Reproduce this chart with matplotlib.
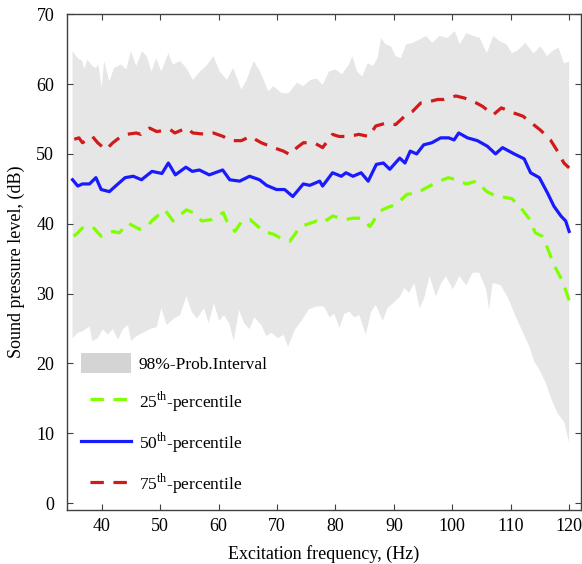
import numpy as np
import matplotlib.pyplot as plt
from matplotlib.patches import Patch
from matplotlib.lines import Line2D

plt.rcParams['font.family'] = ['Liberation Serif', 'DejaVu Serif']
plt.rcParams['mathtext.fontset'] = 'custom'
plt.rcParams['mathtext.rm'] = 'Liberation Serif'

# 98 % probability interval, upper edge
band_hi_f = [35.0, 35.9, 36.7, 37.0, 37.5, 38.4, 39.0, 39.4, 40.0, 40.4, 41.3, 42.1, 43.3, 44.2,
             45.0, 45.9, 46.9, 47.7, 48.5, 49.3, 50.2, 51.4, 52.2, 53.4, 54.5, 55.6, 56.8, 57.9,
             59.1, 60.2, 61.4, 62.5, 63.9, 64.8, 66.0, 67.1, 68.5, 69.4, 70.8, 72.0, 73.4, 74.5,
             75.7, 76.8, 77.8, 78.9, 80.0, 81.1, 82.3, 82.9, 83.7, 84.6, 85.5, 86.4, 87.2, 87.8,
             88.6, 89.5, 90.3, 91.2, 92.1, 93.2, 94.4, 95.5, 96.6, 97.8, 99.2, 100.4, 101.3, 102.4,
             103.6, 104.7, 105.9, 107.0, 108.2, 109.3, 110.2, 111.3, 112.5, 113.9, 115.1, 116.2,
             117.4, 118.2, 119.1, 120.0]
band_hi = [64.7, 63.7, 63.3, 62.1, 63.5, 62.6, 62.3, 62.8, 59.5, 63.3, 60.4, 62.3, 62.8, 62.1,
           64.7, 62.6, 64.7, 64.0, 61.8, 63.7, 61.8, 64.4, 62.8, 63.3, 62.3, 60.6, 61.8, 62.6,
           64.0, 61.8, 60.6, 62.3, 59.2, 60.6, 63.3, 61.8, 59.0, 59.7, 58.7, 58.7, 60.2, 59.7,
           60.6, 60.8, 59.9, 61.8, 62.1, 61.4, 62.8, 64.0, 61.8, 61.1, 63.0, 62.6, 63.7, 66.6,
           65.7, 65.4, 64.0, 63.7, 65.7, 65.9, 66.4, 66.9, 65.9, 66.9, 66.6, 67.6, 65.7, 67.3,
           66.9, 66.6, 64.4, 66.9, 66.1, 65.7, 64.4, 64.9, 65.9, 64.4, 65.4, 64.0,
           64.9, 65.2, 63.0, 63.2]

# 98 % probability interval, lower edge
band_lo_f = [35.0, 35.9, 36.7, 37.9, 38.4, 39.3, 40.2, 41.0, 41.9, 42.8, 43.6, 44.5, 45.0, 45.9,
             47.1, 48.2, 49.4, 50.2, 51.1, 52.3, 53.4, 54.5, 55.4, 56.3, 57.5, 58.3, 59.2, 60.1,
             60.9, 61.8, 62.6, 63.5, 64.4, 65.3, 66.1, 67.3, 68.2, 69.0, 70.2, 71.1, 71.9, 73.1,
             74.2, 75.4, 76.5, 77.5, 78.1, 79.0, 79.8, 80.7, 81.5, 82.4, 83.2, 84.1, 85.2, 86.1,
             86.9, 88.1, 88.9, 89.8, 90.9, 91.8, 92.6, 93.5, 94.4, 95.2, 96.1, 97.2, 98.1, 98.9,
             100.1, 101.2, 102.4, 103.5, 104.6, 105.8, 106.3, 106.9, 108.3, 109.7, 110.9, 112.0,
             113.2, 114.0, 114.9, 116.0, 116.9, 118.0, 119.2, 120.0]
band_lo = [23.6, 24.4, 24.6, 25.3, 23.2, 23.6, 24.9, 24.1, 24.9, 23.4, 24.9, 25.5, 23.2, 23.9,
           24.4, 24.9, 25.2, 27.9, 25.5, 26.4, 26.9, 29.6, 27.4, 26.4, 27.9, 25.8, 28.6, 26.1,
           26.9, 25.8, 23.2, 27.7, 25.7, 24.9, 26.6, 25.5, 23.9, 24.4, 23.6, 24.1, 22.4, 24.9,
           26.1, 27.7, 28.1, 28.2, 28.1, 26.6, 27.1, 25.1, 27.1, 27.4, 26.6, 26.9, 24.1, 27.4,
           28.4, 26.1, 27.9, 28.6, 29.4, 30.8, 30.1, 31.5, 27.9, 29.4, 32.5, 29.6, 31.5, 32.5,
           30.6, 32.5, 31.2, 33.0, 33.0, 30.6, 27.7, 31.5, 31.2, 29.1, 26.6, 24.6,
           22.4, 20.3, 19.1, 17.2, 15.0, 12.9, 11.5, 8.6]

# 25th percentile
p25_f = [35.2, 35.9, 36.7, 38.4, 39.9, 41.9, 43.0, 44.5, 46.5, 47.7, 48.8, 50.8, 52.2, 54.5,
         55.6, 57.1, 58.8, 60.8, 61.4, 62.8, 64.0, 65.4, 67.7, 69.4, 70.5, 72.2, 74.0, 75.1,
         76.8, 77.8, 79.5, 81.8, 83.0, 84.4, 85.9, 87.6, 88.8, 90.5, 92.2, 93.9, 96.1, 97.8,
         99.3, 100.7, 102.4, 104.1, 105.9, 107.4, 108.8, 110.2, 111.7, 113.1, 114.2, 115.4,
         116.3, 117.4, 118.6, 119.4, 120.0]
p25 = [38.2, 38.7, 39.4, 39.6, 38.2, 38.9, 38.7, 40.1, 39.2, 39.6, 40.6, 42.0, 40.4, 42.0,
       41.6, 40.4, 40.6, 41.6, 40.4, 38.9, 40.4, 40.6, 38.9, 38.5, 38.0, 37.5, 39.6, 39.9,
       40.4, 40.1, 41.1, 40.6, 40.8, 40.8, 39.6, 41.8, 42.3, 42.8, 44.2, 44.4, 45.4, 46.1,
       46.6, 46.3, 45.7, 46.1, 44.6, 44.0, 43.8, 43.6, 42.3, 40.8, 38.7, 38.2,
       36.5, 34.1, 32.2, 30.5, 29.0]

# 50th percentile
p50_f = [35.0, 35.9, 36.7, 37.9, 39.0, 39.9, 41.3, 42.5, 44.0, 45.4, 46.8, 48.6, 50.3, 51.4,
         52.6, 54.4, 55.5, 56.7, 58.4, 60.7, 61.9, 63.6, 65.3, 67.0, 68.2, 69.9, 71.3, 72.7,
         74.5, 75.6, 77.3, 77.8, 79.5, 81.0, 81.8, 83.0, 84.4, 85.6, 87.0, 88.2, 89.3, 91.0,
         91.9, 92.8, 93.9, 95.1, 96.5, 98.0, 99.4, 100.3, 101.1, 102.6, 104.3, 106.0, 107.4,
         108.6, 110.6, 112.3, 113.4, 114.9, 116.3, 117.4, 118.6, 119.4, 120.0]
p50 = [46.3, 45.4, 45.7, 45.7, 46.6, 44.9, 44.6, 45.5, 46.6, 46.8, 46.3, 47.5, 47.2, 48.7,
       47.0, 48.1, 47.5, 47.7, 47.0, 47.7, 46.3, 46.1, 46.8, 46.3, 45.5, 44.9, 44.9, 43.9,
       45.7, 45.5, 46.1, 45.4, 47.3, 46.8, 47.3, 46.8, 47.3, 46.1, 48.5, 48.7, 47.8, 49.4,
       48.7, 50.4, 50.0, 51.3, 51.6, 52.3, 52.3, 52.0, 53.0, 52.3, 51.9, 51.1, 50.0,
       50.9, 50.0, 49.3, 47.3, 46.6, 44.4, 42.5, 41.1, 40.4, 38.9]

# 75th percentile
p75_f = [35.3, 36.1, 36.7, 38.4, 39.3, 40.7, 41.9, 43.3, 44.2, 45.9, 46.7, 48.2, 49.4, 51.7,
         52.5, 54.5, 55.6, 57.9, 59.1, 60.8, 62.0, 63.9, 65.4, 67.3, 69.4, 71.1, 72.2, 73.4,
         74.5, 76.3, 77.4, 77.8, 79.5, 80.6, 82.3, 84.0, 85.7, 86.9, 88.6, 90.3, 92.1, 93.2,
         94.6, 96.1, 97.5, 98.6, 100.6, 102.1, 104.1, 105.2, 107.0, 108.4, 110.4, 112.1,
         113.9, 115.1, 116.8, 118.0, 119.1, 120.0]
p75 = [52.1, 52.3, 51.6, 52.5, 51.6, 50.6, 51.6, 52.5, 52.8, 53.0, 52.8, 53.7, 53.2, 53.5,
       53.0, 53.7, 53.0, 52.8, 53.0, 52.5, 51.9, 51.9, 52.5, 51.6, 50.9, 50.4, 49.9, 50.9,
       51.6, 51.6, 51.1, 50.9, 52.8, 52.5, 52.5, 52.8, 52.5, 54.0, 54.4, 54.2, 55.6, 56.1,
       57.3, 57.5, 57.8, 57.8, 58.3, 58.0, 57.3, 56.8, 55.6, 56.6, 55.9, 55.4,
       54.2, 53.4, 52.0, 50.4, 48.7, 48.0]

grid_f = np.union1d(band_hi_f, band_lo_f)
hi = np.interp(grid_f, band_hi_f, band_hi)
lo = np.interp(grid_f, band_lo_f, band_lo)

green, blue, red = '#80ff00', '#1a1aff', '#d21a1a'
dash = (4.2, 3.0)
leg_dash = (4.4, dash)  # start legend sample in a gap, like the original

fig = plt.figure(figsize=(5.82, 5.64), dpi=100)
ax = fig.add_axes([0.1146, 0.0957, 0.8834, 0.879])

ax.fill_between(grid_f, lo, hi, facecolor='#e6e6e6', edgecolor='none', lw=0)
ax.plot(p25_f, p25, color=green, lw=2.3, dashes=dash)
ax.plot(p50_f, p50, color=blue, lw=2.3)
ax.plot(p75_f, p75, color=red, lw=2.3, dashes=dash)

ax.set_xlim(34, 122)
ax.set_ylim(-1, 70)
ax.set_xticks(range(40, 121, 10))
ax.set_yticks(range(0, 71, 10))
ax.tick_params(direction='in', top=True, right=True, length=4, width=0.8,
               color='#404040', labelsize=13)
ax.tick_params(axis='x', pad=6)
ax.tick_params(axis='y', pad=9)
for s in ax.spines.values():
    s.set_color('#404040')
    s.set_linewidth(1.0)

ax.set_xlabel('Excitation frequency, (Hz)', fontsize=13, labelpad=7)
ax.set_ylabel('Sound pressure level, (dB)', fontsize=13, labelpad=8)

handles = [
    Patch(facecolor='#d4d4d4', edgecolor='none'),
    Line2D([], [], color=green, lw=2.3, linestyle=leg_dash),
    Line2D([], [], color=blue, lw=2.3),
    Line2D([], [], color=red, lw=2.3, linestyle=leg_dash),
]
labels = ['98%-Prob.Interval', '25$^{\\mathrm{th}}$-percentile',
          '50$^{\\mathrm{th}}$-percentile', '75$^{\\mathrm{th}}$-percentile']
ax.legend(handles, labels, loc='lower left', bbox_to_anchor=(0.0, 0.0), frameon=False,
          fontsize=12.5, handlelength=2.9, handleheight=1.4, labelspacing=0.95,
          handletextpad=0.45, borderaxespad=0.4)

fig.savefig('out.png', dpi=100)
